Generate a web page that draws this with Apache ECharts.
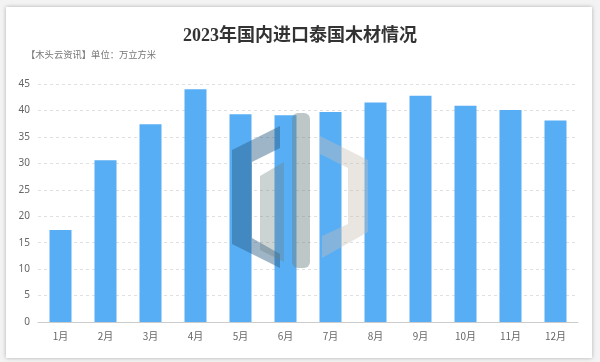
<!DOCTYPE html>
<html><head><meta charset="utf-8">
<script src="https://cdn.jsdelivr.net/npm/echarts@6/dist/echarts.min.js"></script>
<style>
html,body{margin:0;padding:0;background:#f3f3f3;width:600px;height:362px;overflow:hidden;}
#card{position:absolute;left:6px;top:7px;width:586px;height:351px;background:#fff;box-shadow:0 0 4px rgba(0,0,0,0.28);}
#c{position:absolute;left:0;top:0;width:600px;height:362px;}
</style></head>
<body><div id="card"></div><div id="c"></div>
<script>
const categories = ['1月','2月','3月','4月','5月','6月','7月','8月','9月','10月','11月','12月'];
const values = [17.4, 30.6, 37.4, 44.0, 39.3, 39.1, 39.7, 41.5, 42.8, 40.9, 40.1, 38.1];
const yTicks = [0, 5, 10, 15, 20, 25, 30, 35, 40, 45];

const chart = echarts.init(document.getElementById('c'), null, {renderer:'canvas'});
chart.setOption({
  backgroundColor: 'transparent',
  animation: false,
  title: [{
    text: '2023年国内进口泰国木材情况',
    left: 'center', top: 22,
    textStyle: {fontSize: 18, fontWeight: 'bold', color: '#333', fontFamily: "'Liberation Serif','Noto Sans CJK SC'"}
  },{
    text: '【木头云资讯】单位：万立方米',
    left: 21, top: 45,
    textStyle: {fontSize: 9.3, fontWeight: 'normal', color: '#777', fontFamily: "'Noto Sans CJK SC'"}
  }],
  grid: {left: 38, right: 22, top: 84, bottom: 40},
  xAxis: {
    type: 'category', data: categories,
    axisLine: {lineStyle: {color: '#ccc'}},
    axisTick: {show: false},
    axisLabel: {color: '#666', fontSize: 10, margin: 9, fontFamily: "'Noto Sans CJK SC'"}
  },
  yAxis: {
    type: 'value', min: yTicks[0], max: yTicks[yTicks.length-1], interval: yTicks[1]-yTicks[0],
    axisLine: {show: false}, axisTick: {show: false},
    axisLabel: {color: '#666', fontSize: 10, margin: 8, fontFamily: "'Noto Sans','Noto Sans CJK SC'"},
    splitLine: {lineStyle: {color: '#e0e0e0', type: [3, 3]}}
  },
  series: [{
    type: 'bar', data: values, barWidth: 22,
    itemStyle: {color: '#58aef5'}
  }],
  graphic: [
    {type:'polygon', silent:true, z:100, shape:{points:[[232,150],[280,126],[280,148],[252,162],[252,238],[280,254],[280,268],[232,244]]}, style:{fill:'rgba(40,90,130,0.45)'}},
    {type:'polygon', silent:true, z:100, shape:{points:[[260,176],[284,162],[284,262],[260,250]]}, style:{fill:'rgba(110,130,130,0.35)'}},
    {type:'rect', silent:true, z:100, shape:{x:292,y:113,width:18,height:155,r:6}, style:{fill:'rgba(110,130,130,0.45)'}},
    {type:'polygon', silent:true, z:100, shape:{points:[[320,136],[368,160],[368,232],[322,258],[322,236],[348,224],[348,168],[320,154]]}, style:{fill:'rgba(200,190,180,0.4)'}}
  ]
});
</script></body></html>
